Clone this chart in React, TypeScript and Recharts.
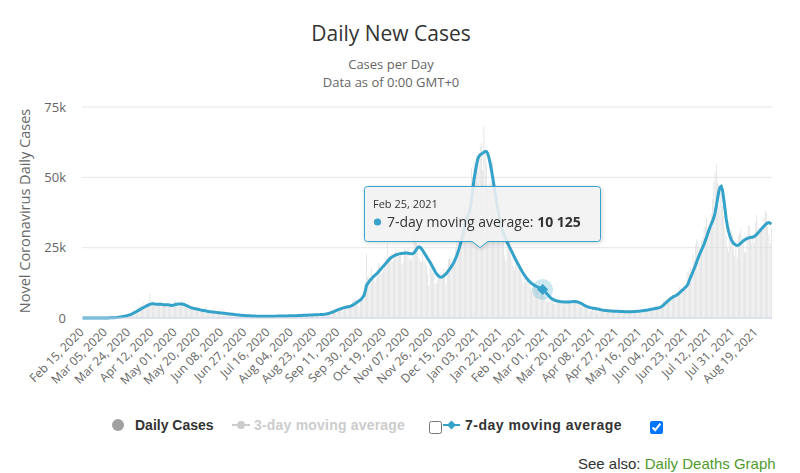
import React from 'react';
import {
  ComposedChart,
  Bar,
  Line,
  XAxis,
  YAxis,
  CartesianGrid,
  Tooltip,
  ReferenceDot,
} from 'recharts';

// Daily reported cases, one array per month (Feb 15, 2020 onwards)
const dailyFeb20 = [0, 0, 0, 0, 0, 0, 0, 4, 0, 4, 0, 2, 3, 5, 4];
const dailyMar20 = [13, 4, 11, 34, 30, 48, 43, 67, 46, 50, 83, 134, 208, 342, 251, 152, 407, 676, 643, 714, 1035, 665, 967, 1427, 1452, 2129, 2885, 2546, 2433, 2619, 3009];
const dailyApr20 = [4324, 4244, 4450, 3735, 5903, 3802, 3634, 5491, 4344, 8681, 5233, 5288, 4342, 5252, 4603, 4617, 5599, 5525, 5850, 4676, 4301, 4451, 4583, 5386, 4913, 4463, 4309, 3996, 4076, 6032];
const dailyMay20 = [6201, 4806, 4339, 3985, 4406, 6111, 5614, 4649, 3896, 3923, 3877, 3403, 3242, 3446, 3560, 3450, 3142, 2684, 2412, 2472, 2615, 3287, 2959, 2405, 1625, 4043, 2013, 1887, 2095, 2445, 1936];
const dailyJun20 = [1570, 1653, 1871, 1805, 1650, 1557, 1326, 1205, 1741, 1003, 1266, 1541, 1425, 1514, 1056, 1279, 1115, 1218, 1346, 1295, 958, 1221, 874, 653, 1118, 1380, 890, 901, 815, 689];
const dailyJul20 = [829, 576, 544, 624, 516, 352, 581, 630, 512, 642, 820, 650, 530, 538, 650, 687, 827, 796, 672, 580, 445, 560, 769, 767, 880, 1187, 685, 581, 763, 846, 880];
const dailyAug20 = [743, 744, 938, 670, 892, 950, 871, 758, 1062, 816, 1148, 1009, 1441, 1276, 1012, 1040, 713, 1089, 812, 1182, 1033, 1288, 1041, 853, 1184, 1048, 1522, 1276, 1108, 1715, 1406];
const dailySep20 = [1295, 1508, 1735, 1940, 1813, 2988, 2948, 2420, 2659, 2919, 3539, 3497, 3330, 2621, 3105, 3991, 3395, 4322, 4422, 3899, 4368, 4926, 6178, 6634, 6874, 6042, 5693, 4044, 7143, 7108];
const dailyOct20 = [6914, 6968, 12872, 22961, 14542, 14542, 14162, 17540, 13864, 15166, 12872, 13972, 17234, 19724, 18980, 15650, 16171, 16982, 18804, 21331, 26688, 21242, 20530, 23012, 19790, 20890, 22885, 24701, 23065, 24405, 21915];
const dailyNov20 = [23254, 18950, 20018, 25177, 24141, 23287, 24957, 20572, 21350, 20412, 22950, 33470, 27301, 26860, 24962, 21363, 20051, 19609, 22915, 20252, 19875, 18662, 15450, 11299, 18213, 17555, 16022, 15871, 12155, 12330];
const dailyDec20 = [13430, 16004, 14879, 16298, 15539, 17272, 14718, 12282, 16578, 20964, 21672, 21502, 18447, 20263, 18450, 25161, 35383, 28507, 27052, 35928, 33364, 36804, 39237, 39036, 32725, 34693, 30501, 41385, 53135, 50023, 55892];
const dailyJan21 = [53285, 57725, 54990, 58784, 60916, 62322, 52618, 68053, 59937, 54940, 46165, 45533, 47525, 48682, 55761, 41346, 38598, 37535, 33355, 38905, 37892, 40261, 33552, 30004, 22195, 20089, 25308, 28680, 29079, 23275, 21088];
const dailyFeb21 = [18607, 16840, 19202, 20634, 19114, 18262, 15845, 14104, 12364, 14715, 12718, 15144, 13308, 13013, 10972, 9765, 10625, 12057, 12027, 10406, 9834, 10641, 8489, 8523, 9985, 8523, 7434, 6035];
const dailyMar21 = [5455, 6385, 5766, 6573, 6040, 5177, 5177, 4712, 5766, 6305, 6609, 5534, 5534, 4618, 5089, 5294, 5758, 6303, 5485, 4802, 5312, 5342, 5379, 6397, 6187, 5605, 5063, 3862, 4654, 4052, 4040];
const dailyApr21 = [4479, 3402, 3423, 2297, 2762, 2379, 3567, 2963, 3150, 2589, 1730, 3568, 2472, 2491, 2672, 3060, 2206, 1882, 2524, 2396, 2729, 2573, 2596, 2381, 1712, 2064, 1909, 2166, 2445, 2027];
const dailyMay21 = [1907, 1649, 1946, 1979, 2613, 2490, 2047, 1770, 1671, 2357, 2474, 2657, 2284, 2193, 2027, 1926, 1979, 2412, 2696, 2874, 2829, 2829, 2235, 2493, 2439, 3180, 3542, 4182, 3398, 3240, 3383];
const dailyJun21 = [3165, 4330, 5274, 6238, 5765, 5341, 5683, 6048, 7540, 7393, 8125, 7738, 7490, 7673, 7673, 9055, 11007, 10476, 10321, 9284, 10633, 11625, 16135, 16703, 15810, 18270, 14876, 22868, 20479, 26068];
const dailyJul21 = [27989, 27125, 24885, 24248, 27334, 28773, 32548, 32551, 35707, 31772, 31772, 34471, 36660, 42302, 48553, 51870, 54674, 48161, 39950, 46558, 44104, 39906, 36389, 31795, 29173, 24950, 23511, 27734, 31117, 29622, 24470];
const dailyAug21 = [21952, 24688, 21691, 29312, 30215, 31808, 28612, 26144, 23510, 23190, 29612, 33074, 32700, 29520, 26750, 28438, 26852, 33904, 36572, 32058, 32253, 31914, 31025, 30838, 35847, 38281, 37314, 32406, 29547, 26476, 32181];

// 7-day moving average, one array per month
const avgFeb20 = [0, 0, 0, 0, 1, 1, 1, 1, 1, 1, 1, 2, 2, 3, 3];
const avgMar20 = [8, 10, 13, 18, 25, 33, 42, 52, 62, 80, 100, 130, 160, 200, 250, 310, 380, 450, 530, 620, 710, 820, 930, 1060, 1220, 1400, 1600, 1800, 2050, 2300, 2550];
const avgApr20 = [2800, 3050, 3300, 3550, 3800, 4000, 4250, 4450, 4650, 4850, 5000, 5100, 5050, 4950, 4900, 4850, 4850, 4900, 4850, 4800, 4750, 4700, 4700, 4750, 4700, 4650, 4550, 4450, 4500, 4650];
const avgMay20 = [4800, 4900, 4950, 5000, 5000, 4950, 4900, 4800, 4600, 4400, 4200, 4000, 3800, 3650, 3500, 3400, 3300, 3200, 3100, 3000, 2900, 2800, 2700, 2650, 2550, 2450, 2400, 2300, 2250, 2200, 2150];
const avgJun20 = [2100, 2050, 2000, 1950, 1900, 1850, 1800, 1750, 1700, 1650, 1600, 1550, 1500, 1450, 1400, 1350, 1300, 1250, 1200, 1150, 1100, 1050, 1000, 960, 920, 880, 850, 820, 800, 780];
const avgJul20 = [760, 740, 720, 700, 680, 660, 640, 630, 620, 610, 600, 590, 590, 590, 600, 600, 610, 620, 630, 640, 650, 660, 670, 680, 690, 700, 710, 720, 730, 740, 750];
const avgAug20 = [760, 770, 780, 790, 800, 810, 820, 840, 860, 880, 900, 920, 940, 960, 980, 1000, 1020, 1040, 1060, 1080, 1100, 1120, 1140, 1160, 1180, 1200, 1220, 1250, 1280, 1310, 1350];
const avgSep20 = [1400, 1500, 1600, 1750, 1900, 2050, 2200, 2400, 2600, 2800, 3000, 3150, 3300, 3450, 3600, 3700, 3800, 3900, 4000, 4100, 4200, 4400, 4650, 4900, 5200, 5500, 5800, 6100, 6400, 6800];
const avgOct20 = [7400, 8000, 9500, 11500, 12200, 12800, 13400, 13900, 14400, 14800, 15200, 15600, 16000, 16500, 17000, 17500, 18000, 18500, 19000, 19500, 20000, 20500, 21000, 21400, 21700, 22000, 22200, 22400, 22600, 22700, 22800];
const avgNov20 = [22900, 22950, 23000, 23050, 23100, 23100, 23000, 22900, 22800, 22800, 22900, 23200, 23800, 24500, 25100, 25300, 25100, 24600, 24000, 23300, 22600, 21900, 21200, 20500, 19800, 19000, 18200, 17400, 16600, 15900];
const avgDec20 = [15300, 14900, 14600, 14500, 14600, 14900, 15300, 15700, 16200, 16800, 17400, 18000, 18700, 19400, 20300, 21300, 22400, 23600, 25000, 26500, 28000, 29800, 31800, 33800, 35500, 36500, 37500, 39500, 42500, 46000, 49500];
const avgJan21 = [52000, 54500, 56500, 57500, 58000, 58300, 58600, 58900, 59200, 59200, 58600, 57200, 55300, 53000, 50500, 47800, 45000, 42200, 39500, 37200, 35000, 33200, 31600, 30200, 29000, 27900, 26900, 26000, 25200, 24300, 23400];
const avgFeb21 = [22500, 21600, 20700, 19900, 19100, 18300, 17500, 16700, 16000, 15300, 14700, 14100, 13600, 13100, 12700, 12300, 12000, 11700, 11400, 11200, 11000, 10800, 10600, 10400, 10125, 9800, 9400, 8900];
const avgMar21 = [8400, 7900, 7400, 7000, 6700, 6500, 6300, 6150, 6050, 5950, 5850, 5800, 5750, 5700, 5700, 5650, 5650, 5650, 5700, 5750, 5800, 5850, 5850, 5800, 5750, 5650, 5500, 5300, 5050, 4800, 4550];
const avgApr21 = [4300, 4100, 3950, 3800, 3700, 3600, 3500, 3450, 3400, 3300, 3200, 3100, 3000, 2900, 2800, 2750, 2700, 2650, 2600, 2550, 2500, 2480, 2460, 2440, 2420, 2400, 2380, 2360, 2340, 2320];
const avgMay21 = [2300, 2280, 2260, 2240, 2230, 2220, 2220, 2230, 2250, 2270, 2300, 2330, 2360, 2400, 2440, 2490, 2540, 2600, 2660, 2720, 2790, 2860, 2940, 3020, 3100, 3180, 3260, 3350, 3450, 3550, 3650];
const avgJun21 = [3800, 4000, 4300, 4700, 5100, 5500, 5900, 6300, 6700, 7000, 7300, 7600, 7800, 8000, 8300, 8600, 9000, 9400, 9800, 10200, 10600, 11000, 11500, 12200, 13500, 14500, 15500, 16600, 17700, 18800];
const avgJul21 = [20000, 21200, 22300, 23300, 24300, 25300, 26300, 27500, 28700, 30000, 31300, 32500, 33500, 34500, 35800, 37500, 39800, 42500, 45000, 46500, 46800, 45500, 42500, 39000, 35500, 32800, 30800, 29200, 28000, 27200, 26600];
const avgAug21 = [26200, 25900, 25800, 25900, 26200, 26600, 27000, 27400, 27700, 28000, 28200, 28400, 28500, 28600, 28700, 28800, 29000, 29300, 29700, 30200, 30700, 31200, 31700, 32200, 32700, 33100, 33500, 33800, 33900, 33700, 33400];

const yTicks = [0, 25000, 50000, 75000];
const MONTH_NAMES = ['Jan', 'Feb', 'Mar', 'Apr', 'May', 'Jun', 'Jul', 'Aug', 'Sep', 'Oct', 'Nov', 'Dec'];
const FIRST_DAY = Date.UTC(2020, 1, 15);
const TICK_EVERY = 19;
const HIGHLIGHT_DATE = 'Feb 25, 2021';

const dailyCases = [
  ...dailyFeb20, ...dailyMar20, ...dailyApr20, ...dailyMay20, ...dailyJun20, ...dailyJul20,
  ...dailyAug20, ...dailySep20, ...dailyOct20, ...dailyNov20, ...dailyDec20,
  ...dailyJan21, ...dailyFeb21, ...dailyMar21, ...dailyApr21, ...dailyMay21, ...dailyJun21,
  ...dailyJul21, ...dailyAug21,
];
const movingAvg7 = [
  ...avgFeb20, ...avgMar20, ...avgApr20, ...avgMay20, ...avgJun20, ...avgJul20,
  ...avgAug20, ...avgSep20, ...avgOct20, ...avgNov20, ...avgDec20,
  ...avgJan21, ...avgFeb21, ...avgMar21, ...avgApr21, ...avgMay21, ...avgJun21,
  ...avgJul21, ...avgAug21,
];

const formatDate = (i: number) => {
  const d = new Date(FIRST_DAY + i * 86400000);
  return `${MONTH_NAMES[d.getUTCMonth()]} ${String(d.getUTCDate()).padStart(2, '0')}, ${d.getUTCFullYear()}`;
};
const dates = dailyCases.map((_, i) => formatDate(i));
const chartData = dates.map((date, i) => ({ date, daily: dailyCases[i], avg7: movingAvg7[i] }));
const highlightIndex = dates.indexOf(HIGHLIGHT_DATE);

const TEAL = '#35a2c9';
const FONT = '"Open Sans", "DejaVu Sans", sans-serif';
const LEGEND_FONT = '"Liberation Sans", Arial, sans-serif';

const groupDigits = (v: number) => String(v).replace(/\B(?=(\d{3})+(?!\d))/g, ' ');
const formatK = (v: number) => (v === 0 ? '0' : `${v / 1000}k`);

const DateTick = (props: any) => {
  const { x, y, payload } = props;
  const ax = x + 2;
  const ay = y + 15;
  return (
    <text
      x={ax}
      y={ay}
      transform={`rotate(-45 ${ax} ${ay})`}
      textAnchor="end"
      fontSize={12}
      fontFamily={FONT}
      fill="#666"
    >
      {payload.value}
    </text>
  );
};

const ValueTick = (props: any) => {
  const { x, y, payload } = props;
  return (
    <text x={x} y={y} dy="0.35em" textAnchor="end" fontSize={13} fontFamily={FONT} fill="#666">
      {formatK(payload.value)}
    </text>
  );
};

const HoverMarker = (props: any) => {
  const { cx, cy } = props;
  if (cx == null || cy == null) return <g />;
  const s = 5.5;
  return (
    <g>
      <circle cx={cx} cy={cy} r={10.5} fill={TEAL} fillOpacity={0.25} />
      <path d={`M${cx},${cy - s} L${cx + s},${cy} L${cx},${cy + s} L${cx - s},${cy} Z`} fill={TEAL} />
    </g>
  );
};

const TipBox = () => {
  const label = dates[highlightIndex];
  const value = movingAvg7[highlightIndex];
  return (
    <svg
      width={240}
      height={66}
      style={{ overflow: 'visible', filter: 'drop-shadow(1px 1px 2px rgba(0,0,0,0.18))' }}
    >
      <path
        d="M3.5,0.5 H233.5 Q236.5,0.5 236.5,3.5 V52.5 Q236.5,55.5 233.5,55.5 H124 L116,61.5 L108,55.5 H3.5 Q0.5,55.5 0.5,52.5 V3.5 Q0.5,0.5 3.5,0.5 Z"
        fill="rgba(247,247,247,0.85)"
        stroke={TEAL}
        strokeWidth={1}
      />
      <text x={9} y={22} fontSize={11} fontFamily={FONT} fill="#333">
        {label}
      </text>
      <circle cx={13.5} cy={36} r={3.6} fill={TEAL} />
      <text x={23} y={40.5} fontSize={14} fontFamily={FONT} fill="#333">
        7-day moving average:{' '}
        <tspan fontWeight="bold">{groupDigits(value)}</tspan>
      </text>
    </svg>
  );
};

const legendText: React.CSSProperties = {
  position: 'absolute',
  top: 417,
  fontFamily: LEGEND_FONT,
  fontWeight: 'bold',
  fontSize: 14,
  lineHeight: '16px',
  whiteSpace: 'nowrap',
};

const ChartLegend = () => (
  <>
    <div
      style={{ position: 'absolute', left: 112, top: 419, width: 12, height: 12, borderRadius: '50%', background: '#a0a0a0' }}
    />
    <div style={{ ...legendText, left: 135, color: '#333' }}>Daily Cases</div>
    <svg style={{ position: 'absolute', left: 232, top: 419 }} width={18} height={12}>
      <line x1={0} y1={6} x2={18} y2={6} stroke="#ccc" strokeWidth={2} />
      <circle cx={9} cy={6} r={4} fill="#ccc" />
    </svg>
    <div style={{ ...legendText, left: 254, color: '#ccc', letterSpacing: '0.2px' }}>3-day moving average</div>
    <input
      type="checkbox"
      readOnly
      style={{ position: 'absolute', left: 429, top: 421, width: 13, height: 13, margin: 0 }}
    />
    <svg style={{ position: 'absolute', left: 443, top: 419 }} width={17} height={12}>
      <line x1={0} y1={6} x2={17} y2={6} stroke={TEAL} strokeWidth={2} />
      <path d="M8.5,1.5 L13,6 L8.5,10.5 L4,6 Z" fill={TEAL} />
    </svg>
    <div style={{ ...legendText, left: 465, color: '#333', letterSpacing: '0.5px' }}>7-day moving average</div>
    <input
      type="checkbox"
      checked
      readOnly
      style={{ position: 'absolute', left: 650, top: 421, width: 13, height: 13, margin: 0 }}
    />
    <div
      style={{
        position: 'absolute',
        left: 578,
        top: 455,
        fontFamily: LEGEND_FONT,
        fontSize: 15,
        lineHeight: '17px',
        color: '#333',
        whiteSpace: 'nowrap',
      }}
    >
      See also: <span style={{ color: '#4f9b2c' }}>Daily Deaths Graph</span>
    </div>
  </>
);

export default function App() {
  return (
    <div
      style={{
        position: 'absolute',
        left: 0,
        top: 0,
        width: 800,
        height: 473,
        background: '#fff',
        overflow: 'hidden',
        fontFamily: FONT,
      }}
    >
      <ComposedChart
        width={800}
        height={473}
        data={chartData}
        margin={{ top: 107, right: 28, bottom: 95, left: 8 }}
        barCategoryGap="20%"
      >
        <CartesianGrid vertical={false} stroke="#e6e6e6" />
        <XAxis
          dataKey="date"
          interval={TICK_EVERY - 1}
          tick={<DateTick />}
          tickLine={false}
          tickSize={0}
          tickMargin={0}
          axisLine={{ stroke: '#ccd6eb' }}
          height={60}
        />
        <YAxis
          domain={[0, 75000]}
          ticks={yTicks}
          tick={<ValueTick />}
          tickLine={false}
          tickSize={0}
          tickMargin={16}
          axisLine={false}
          width={74}
        />
        <Bar dataKey="daily" fill="#dedede" isAnimationActive={false} />
        <Line
          dataKey="avg7"
          type="linear"
          stroke={TEAL}
          strokeWidth={3}
          dot={false}
          activeDot={false}
          isAnimationActive={false}
        />
        <ReferenceDot
          x={dates[highlightIndex]}
          y={movingAvg7[highlightIndex]}
          r={10}
          shape={<HoverMarker />}
        />
        <Tooltip
          active
          defaultIndex={highlightIndex}
          position={{ x: 364, y: 186 }}
          content={<TipBox />}
          cursor={false}
          isAnimationActive={false}
        />
      </ComposedChart>

      <svg
        width={800}
        height={473}
        style={{ position: 'absolute', left: 0, top: 0, pointerEvents: 'none' }}
      >
        <text x={391} y={41} textAnchor="middle" fontSize={21} fontFamily={FONT} fill="#333">
          Daily New Cases
        </text>
        <text x={391} y={68.8} textAnchor="middle" fontSize={13} fontFamily={FONT} fill="#666">
          Cases per Day
        </text>
        <text x={391} y={86.6} textAnchor="middle" fontSize={13} fontFamily={FONT} fill="#666">
          Data as of 0:00 GMT+0
        </text>
        <text
          x={24}
          y={211}
          transform="rotate(-90 24 211)"
          textAnchor="middle"
          dominantBaseline="central"
          fontSize={14.5}
          fontFamily={FONT}
          fill="#666"
        >
          Novel Coronavirus Daily Cases
        </text>
      </svg>

      <ChartLegend />
    </div>
  );
}
